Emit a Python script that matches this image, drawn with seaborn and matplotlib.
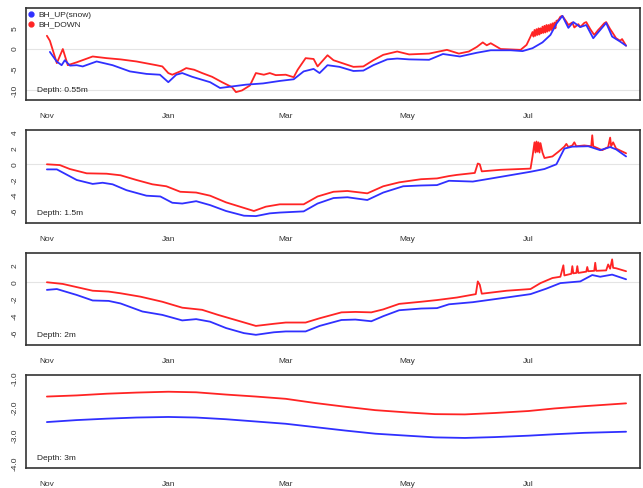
import numpy as np
import pandas as pd
import matplotlib
matplotlib.use("Agg")
import matplotlib.pyplot as plt
from matplotlib.lines import Line2D
import seaborn as sns

sns.set_style("white")
plt.rcParams['font.family'] = ['Liberation Sans', 'DejaVu Sans']

base = pd.Timestamp("2012-11-01")
month_ticks = ["2012-11-01", "2013-01-01", "2013-03-01", "2013-05-01", "2013-07-01"]
month_labels = ["Nov", "Jan", "Mar", "May", "Jul"]
labels = ["BH_UP(snow)", "BH_DOWN"]
depths = ["Depth: 0.55m", "Depth: 1.5m", "Depth: 2m", "Depth: 3m"]

# days since Nov 1, values in deg C
d055_down = [0, 1.5, 5, 8, 10.5, 15, 23, 30, 37, 45, 55, 58, 61, 63, 67, 70, 74, 78, 83, 88,
             93, 95, 98, 102, 105, 109, 112, 115, 120, 124, 126, 130, 134, 136, 141, 144, 149,
             154, 159, 164, 169, 176, 182, 192, 201, 207, 212, 216, 219, 221, 223, 228, 233,
             238, 241, 243, 244, 244.5, 245, 245.5, 246, 246.5, 247, 247.5, 248, 248.5, 249,
             249.5, 250, 250.5, 251, 251.5, 252, 252.5, 253, 253.5, 254, 254.5, 255, 255.5, 256,
             257, 258, 259, 261, 262, 264, 265, 267, 268, 270, 271, 273, 275, 277, 278, 280,
             281, 283, 284, 286, 288, 289, 291]
t055_down = [3.2, 2.0, -3.4, 0.0, -3.9, -3.2, -1.8, -2.2, -2.5, -3.0, -3.9, -4.2, -5.8, -6.2,
             -5.4, -4.6, -5.0, -5.8, -6.7, -8.0, -9.2, -10.4, -10.0, -8.8, -5.8, -6.2, -5.8,
             -6.3, -6.2, -6.8, -5.0, -2.2, -2.4, -4.2, -1.5, -2.7, -3.5, -4.3, -4.2, -2.7, -1.4,
             -0.6, -1.3, -1.1, -0.2, -1.1, -0.6, 0.5, 1.6, 0.9, 1.4, 0.0, -0.1, -0.2, 1.0,
             3.0, 4.1, 3.0, 4.6, 3.2, 4.8, 3.4, 5.0, 3.5, 5.0, 3.8, 5.4, 3.9, 5.6, 4.0, 5.8,
             4.2, 5.8, 4.4, 6.0, 4.6, 6.2, 4.8, 6.4, 5.0, 6.8, 7.0, 7.8, 8.0, 6.6, 5.8, 6.4,
             5.2, 6.0, 5.3, 6.3, 6.5, 4.8, 3.4, 4.6, 5.1, 6.2, 6.5, 4.8, 4.1, 2.6, 2.0, 2.4, 0.8]
d055_up = [1.5, 4.9, 7.4, 9, 11.6, 15, 18, 25, 33, 41.7, 50, 56.8, 61, 65, 68, 73, 82, 87,
           93.5, 100, 108.6, 117, 124, 129, 134, 137, 141, 147, 154, 159, 164, 171, 176, 182,
           192, 199, 207.5, 216, 223, 233, 239, 244, 249, 253, 256, 259, 262, 264.5, 268, 271,
           274.5, 278, 281, 284, 288, 291]
t055_up = [-0.7, -3.0, -3.9, -2.7, -4.0, -3.9, -4.2, -3.0, -3.9, -5.4, -6.0, -6.2, -8.0, -6.2,
           -5.8, -6.7, -8.0, -9.4, -9.0, -8.6, -8.3, -7.7, -7.3, -5.4, -4.8, -5.8, -3.9, -4.3,
           -5.3, -5.2, -3.9, -2.5, -2.3, -2.5, -2.6, -1.2, -1.8, -0.9, -0.3, -0.3, -0.5, 0.2,
           1.6, 3.4, 6.1, 8.0, 5.1, 6.5, 5.3, 5.8, 2.6, 4.6, 6.3, 3.0, 1.8, 0.8]

d15_down = [0, 6.5, 11.5, 20, 30, 37, 45, 53, 60, 67, 75, 82, 90, 97, 104, 110, 117, 129, 136,
            144, 151, 161, 169, 177, 188, 196, 202, 206, 215, 216.5, 217.5, 218.5, 228, 243,
            244, 245, 245.5, 246, 246.5, 247, 247.5, 248, 249, 250, 254, 257, 260, 261, 262,
            264, 265, 266, 270, 273.5, 274, 274.5, 279, 282, 283, 283.5, 284.5, 286, 291]
t15_down = [0.0, -0.1, -0.6, -1.15, -1.2, -1.4, -2.0, -2.55, -2.8, -3.5, -3.6, -4.0, -4.85,
            -5.4, -5.95, -5.4, -5.1, -5.1, -4.1, -3.5, -3.4, -3.7, -2.8, -2.3, -1.9, -1.8, -1.5,
            -1.35, -1.1, 0.1, 0.0, -0.9, -0.7, -0.55, 1.0, 2.8, 1.5, 2.9, 1.6, 2.8, 1.5, 2.7,
            1.5, 0.8, 1.0, 1.6, 2.25, 2.6, 2.2, 2.4, 2.8, 2.3, 2.4, 2.3, 3.7, 2.3, 1.8, 2.2,
            3.4, 2.3, 2.8, 2.0, 1.4]
d15_up = [0, 5, 15, 23, 28, 33, 40, 50, 57, 63, 68, 75, 82, 90, 99, 105, 112, 117, 129, 136,
          144, 151, 161, 169, 179, 188, 196, 202, 214, 228, 243, 250, 256, 260, 264, 272, 278,
          283, 286, 291]
t15_up = [-0.65, -0.65, -2.0, -2.5, -2.35, -2.55, -3.3, -4.0, -4.1, -4.9, -5.0, -4.7, -5.2,
          -5.95, -6.55, -6.6, -6.25, -6.15, -6.0, -5.0, -4.3, -4.2, -4.55, -3.6, -2.8, -2.7,
          -2.65, -2.1, -2.2, -1.6, -0.95, -0.6, 0.0, 2.0, 2.25, 2.3, 1.8, 2.2, 1.9, 1.0]

d2_down = [0, 8, 23, 31, 37, 47, 58, 68, 78, 86, 97, 105, 114, 120, 130, 137, 148, 155, 163,
           169, 177, 188, 196, 206, 215.5, 216.5, 217.5, 218.5, 231, 243, 248, 254, 258, 259.5,
           260, 263.5, 264, 264.5, 266, 266.5, 267, 271, 271.5, 272, 275, 275.5, 276, 281, 282,
           283, 284, 284.5, 286, 291]
t2_down = [0.0, -0.2, -1.0, -1.1, -1.3, -1.7, -2.3, -3.0, -3.25, -3.85, -4.6, -5.15, -4.9,
           -4.75, -4.75, -4.25, -3.55, -3.5, -3.55, -3.2, -2.55, -2.3, -2.1, -1.8, -1.4, 0.1,
           -0.3, -1.35, -1.0, -0.8, -0.1, 0.5, 0.65, 2.0, 0.8, 1.0, 1.9, 1.05, 1.1, 1.9, 1.1,
           1.25, 1.8, 1.3, 1.35, 2.3, 1.35, 1.4, 2.1, 1.6, 2.7, 1.7, 1.65, 1.3]
d2_up = [0, 5, 15, 23, 31, 37, 48, 58, 68, 75, 82, 90, 99, 105, 114, 120, 130, 137, 148, 155,
         163, 169, 177, 188, 196, 202, 214, 231, 243, 251, 258, 268, 274, 278, 284, 291]
t2_up = [-0.9, -0.8, -1.5, -2.15, -2.2, -2.5, -3.45, -3.85, -4.5, -4.35, -4.65, -5.4, -6.0,
         -6.2, -5.9, -5.8, -5.8, -5.15, -4.45, -4.4, -4.6, -4.0, -3.3, -3.1, -3.05, -2.6,
         -2.35, -1.8, -1.4, -0.75, -0.1, 0.1, 0.85, 0.65, 0.9, 0.35]

d3 = [0, 15, 30, 45, 61, 75, 90, 105, 120, 135, 150, 165, 181, 195, 210, 225, 242, 255, 270, 291]
t3_down = [-1.62, -1.58, -1.52, -1.48, -1.45, -1.47, -1.55, -1.62, -1.7, -1.85, -1.98, -2.1,
           -2.18, -2.24, -2.25, -2.2, -2.13, -2.04, -1.96, -1.86]
t3_up = [-2.52, -2.45, -2.4, -2.36, -2.34, -2.36, -2.42, -2.5, -2.58, -2.7, -2.82, -2.93,
         -3.0, -3.06, -3.08, -3.05, -3.0, -2.95, -2.9, -2.86]

panels = [
    (d055_up, t055_up, d055_down, t055_down, (-12.3, 9.9), [5, 0, -5, -10], ["5", "0", "-5", "-10"], [0, -10]),
    (d15_up, t15_up, d15_down, t15_down, (-7.48, 4.37), [4, 2, 0, -2, -4, -6], ["4", "2", "0", "-2", "-4", "-6"], [0]),
    (d2_up, t2_up, d2_down, t2_down, (-7.4, 3.45), [2, 0, -2, -4, -6], ["2", "0", "-2", "-4", "-6"], [0]),
    (d3, t3_up, d3, t3_down, (-4.14, -0.86), [-1, -1.5, -2, -2.5, -3, -3.5, -4],
     ["-1.0", "", "-2.0", "", "-3.0", "", "-4.0"], []),
]
tops = [8, 130, 253, 375]
heights = [92, 93, 92, 93]

W, H = 643, 488
fig = plt.figure(figsize=(W / 100, H / 100), dpi=100)
blue = "#3030ff"
red = "#ff2424"

for i, (du, tu, dd, td, ylim, yt, ytl, hl) in enumerate(panels):
    ax = fig.add_axes([26 / W, 1 - (tops[i] + heights[i]) / H, 614 / W, heights[i] / H])
    for h in hl:
        ax.axhline(h, color="#e4e4e4", lw=0.8, zorder=0)
    xd = base + pd.to_timedelta(dd, unit="D")
    xu = base + pd.to_timedelta(du, unit="D")
    sns.lineplot(x=xd, y=td, color=red, lw=1.3, ax=ax)
    sns.lineplot(x=xu, y=tu, color=blue, lw=1.3, ax=ax)
    ax.set_xlim(base - pd.Timedelta(days=10.5), base + pd.Timedelta(days=298))
    ax.set_ylim(*ylim)
    ax.set_xticks(pd.to_datetime(month_ticks))
    ax.set_xticklabels(month_labels)
    ax.set_yticks(yt)
    ax.set_yticklabels(ytl, rotation=90, va="center")
    ax.tick_params(axis="both", direction="out", length=3.5, width=0.7, color="#444",
                   labelsize=6, labelcolor="#333", pad=2)
    ax.tick_params(axis="x", pad=6)
    ax.set_xlabel("")
    ax.set_ylabel("")
    for s in ax.spines.values():
        s.set_color("#333")
        s.set_linewidth(1.2)
    ax.text(0.018, 0.1, depths[i], transform=ax.transAxes, fontsize=6, color="#222",
            ha="left", va="center")
    if i == 0:
        handles = [Line2D([], [], ls="", marker="o", ms=3.5, color=blue),
                   Line2D([], [], ls="", marker="o", ms=3.5, color=red)]
        ax.legend(handles, labels, loc="upper left", frameon=False, fontsize=6,
                  handlelength=0.6, handletextpad=0.5, labelspacing=0.25,
                  borderaxespad=0.15, borderpad=0.2)

fig.savefig("out.png", dpi=100)
